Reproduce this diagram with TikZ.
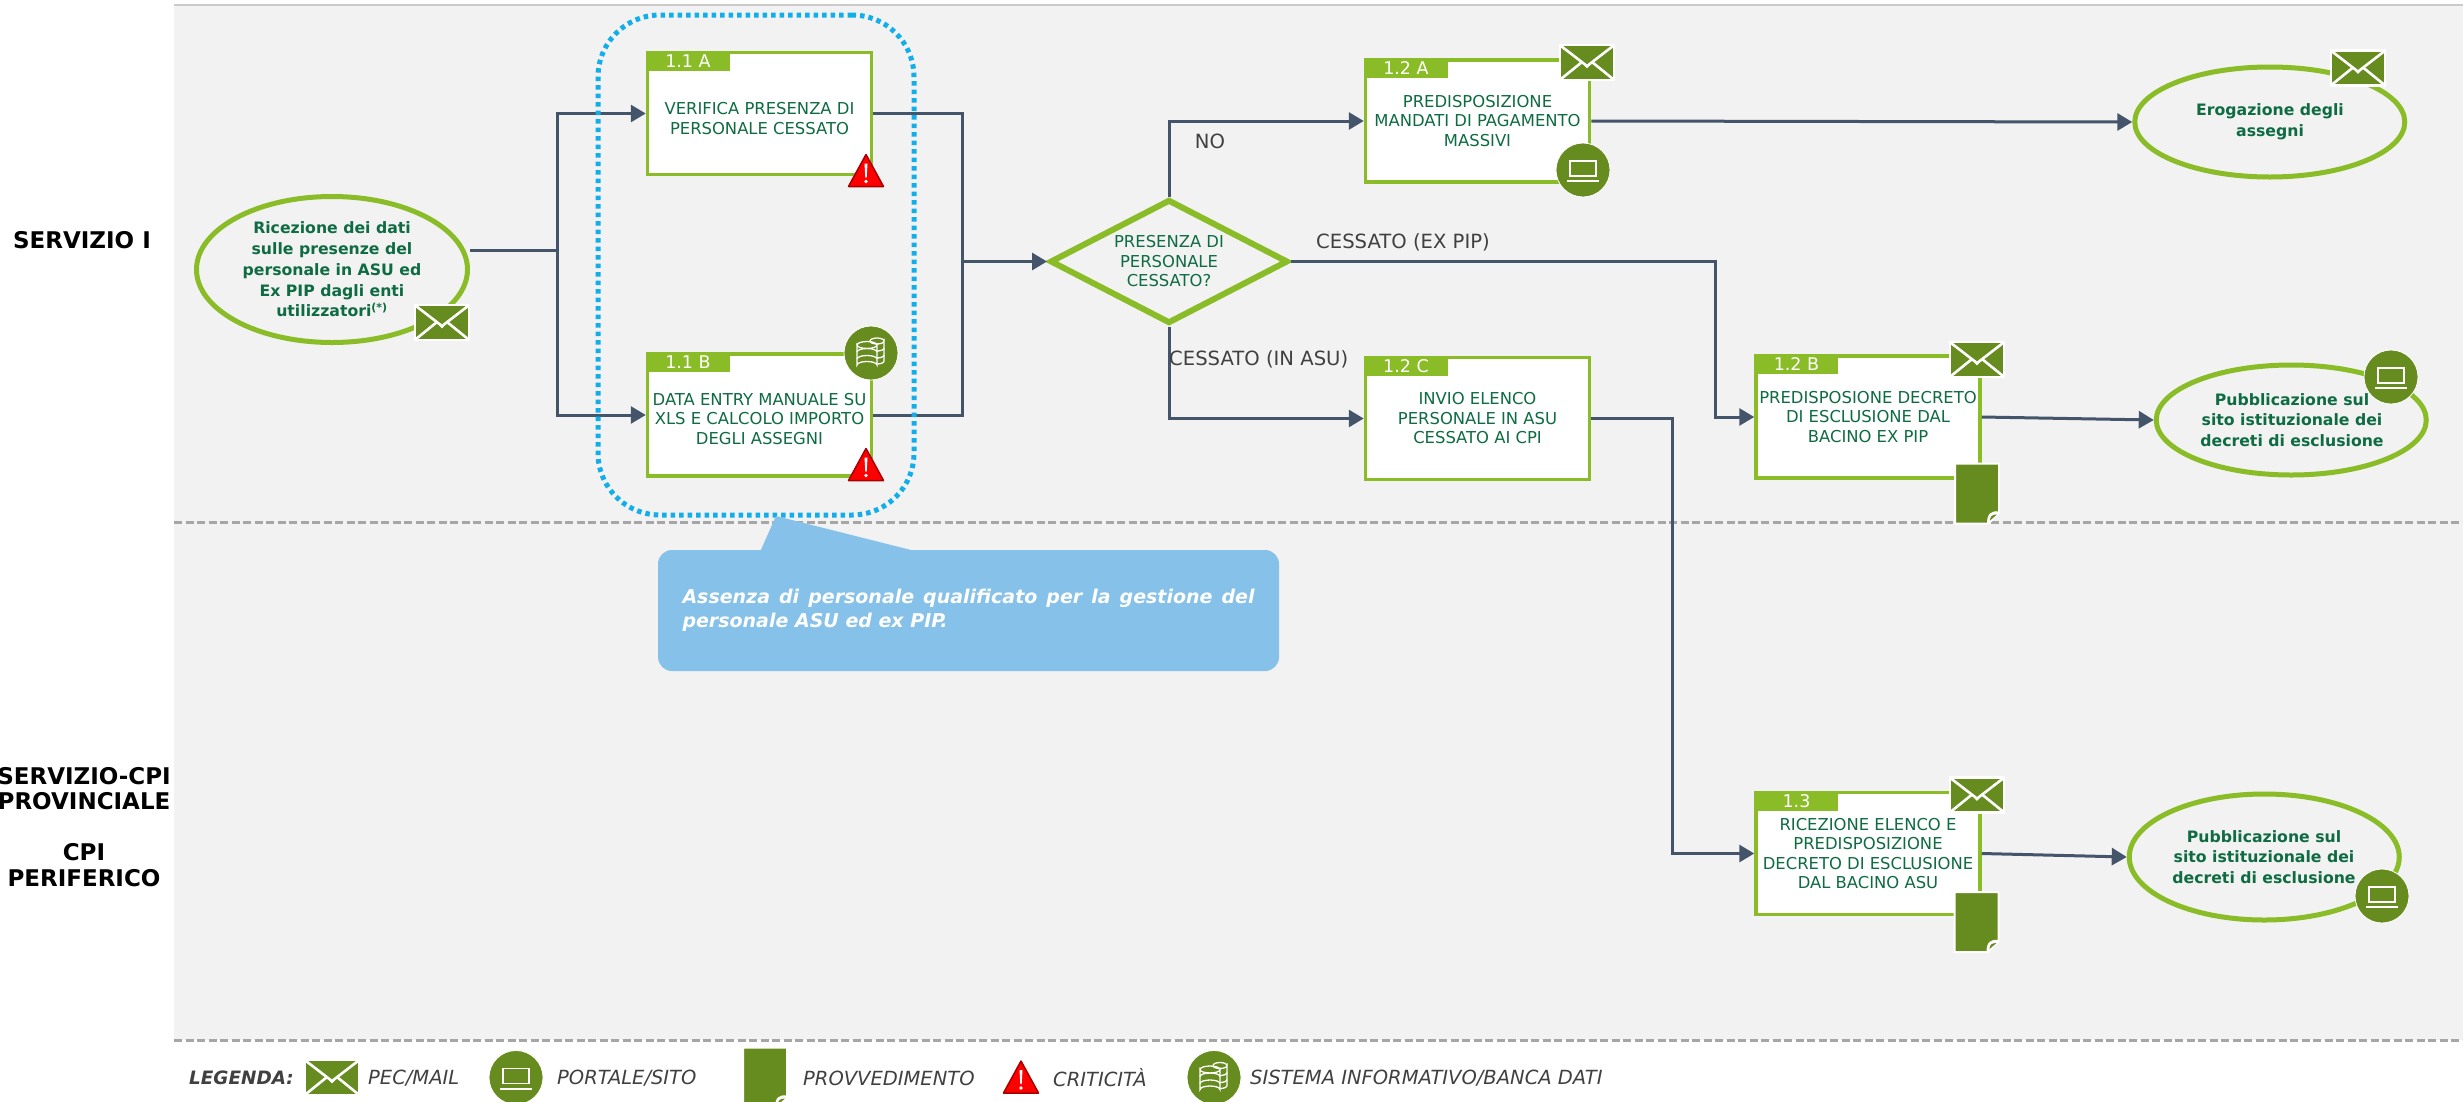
\documentclass[tikz,border=0pt]{standalone}
\usepackage{fontspec}
\setmainfont{DejaVu Sans}
\usepackage{xcolor}
\usepackage{tikz}
\usetikzlibrary{positioning,shapes.geometric,arrows.meta}

\definecolor{leafgreen}{HTML}{8ABC28}
\definecolor{darkleaf}{HTML}{668B1E}
\definecolor{inkgreen}{HTML}{0E6B42}
\definecolor{connblue}{HTML}{44546A}
\definecolor{dotblue}{HTML}{12AEEA}
\definecolor{noteblue}{HTML}{85C1E9}
\definecolor{bandgrey}{HTML}{F2F2F2}
\definecolor{rulegrey}{HTML}{A6A6A6}
\definecolor{labelgrey}{HTML}{404040}

\tikzset{
  stepbox/.style={draw=leafgreen, fill=white, line width=3.5pt, minimum width=224pt, minimum height=122pt, inner sep=0pt},
  steptag/.style={fill=leafgreen, text=white, font=\fontsize{17.5}{17.5}\selectfont, minimum width=84pt, minimum height=20pt, inner sep=0pt, anchor=north west},
  steptext/.style={text=inkgreen, font=\fontsize{16.4}{19.5}\selectfont, align=center, inner sep=0pt},
  endtext/.style={text=inkgreen, font=\fontsize{15.7}{20.7}\selectfont\bfseries, align=center, inner sep=0pt},
  endpoint/.style={ellipse, draw=leafgreen, line width=5pt, inner sep=0pt, minimum width=270pt, minimum height=110pt},
  choice/.style={diamond, draw=leafgreen, fill=bandgrey, line width=6pt, inner sep=0pt, minimum width=238pt, minimum height=124pt},
  flow/.style={draw=connblue, line width=3pt, -{Triangle[length=15pt,width=17pt]}},
  plainflow/.style={draw=connblue, line width=3pt},
  edgetext/.style={text=labelgrey, font=\fontsize{19.6}{19.6}\selectfont, inner sep=0pt},
  lanetext/.style={text=black, font=\fontsize{23}{25.5}\selectfont\bfseries, align=center, inner sep=0pt},
  legendtext/.style={text=labelgrey, font=\fontsize{19.5}{19.5}\selectfont\itshape, inner sep=0pt, anchor=west},
  lanerule/.style={draw=rulegrey, line width=3pt, dash pattern=on 8pt off 3.5pt},
  mailicon/.pic={
    \draw[fill=darkleaf, draw=white, line width=2.5pt] (-27,-17.5) rectangle (27,17.5);
    \draw[white, line width=2.6pt] (-26,-16.5) -- (-2,2) -- (0,4) -- (2,2) -- (26,-16.5);
    \draw[white, line width=2.6pt] (-26,16.5) -- (-5,-.5) (26,16.5) -- (5,-.5);
  },
  laptopicon/.pic={
    \draw[fill=darkleaf, draw=white, line width=.8pt] (0,0) circle (27);
    \draw[white, line width=1.5pt] (-13,-9) rectangle (13,6);
    \draw[white, line width=2pt] (-16,11) -- (16,11);
  },
  dataicon/.pic={
    \draw[fill=darkleaf, draw=white, line width=.8pt] (0,0) circle (27);
    \draw[white, line width=1.3pt] (-1,-12) arc (180:0:7 and 3) -- (13,8) arc (0:90:7 and 3);
    \draw[white, line width=1.3pt] (-1,-12) arc (180:360:7 and 3);
    \draw[white, line width=1.3pt] (13,-5) arc (0:90:7 and 3) (13,2) arc (0:90:7 and 3);
    \draw[white, line width=1.3pt, fill=darkleaf] (-14,-8) arc (180:0:10 and 3.5) -- (6,12) arc (0:-180:10 and 3.5) -- cycle;
    \draw[white, line width=1.3pt] (-14,-8) arc (180:360:10 and 3.5) (-14,-1) arc (180:360:10 and 3.5) (-14,6) arc (180:360:10 and 3.5);
  },
  deedicon/.pic={
    \draw[fill=darkleaf, draw=white, line width=2pt] (-22,-30) -- (22,-30) -- (22,19) -- (11,30) -- (-22,30) -- cycle;
    \fill[white] (22,18) .. controls (14,17) and (10,20) .. (10,30) -- (13,30) -- (23,19) -- cycle;
    \fill[darkleaf] (20,21) .. controls (15,21) and (13,23) .. (13,27) -- cycle;
  },
  alerticon/.pic={
    \draw[fill=red, draw=red!65!black, line width=1.5pt, line join=round] (0,-16) -- (17.5,16) -- (-17.5,16) -- cycle;
    \fill[white] (-1.5,-7) -- (1.5,-7) -- (.7,7) -- (-.7,7) -- cycle;
    \fill[white] (0,11) circle (1.8);
  },
}

\begin{document}
\begin{tikzpicture}[x=1pt,y=-1pt]
  \useasboundingbox (0,0) rectangle (2463,1101);
  % Lanes
  \fill[bandgrey] (174,5) rectangle (2463,1040);
  \draw[draw=rulegrey!60, line width=2pt] (174,5) -- (2463,5);
  \coordinate (ruleMidL) at (174,522);
  \coordinate (ruleMidR) at (2463,522);
  \coordinate (ruleLowL) at (174,1040);
  \coordinate (ruleLowR) at (2463,1040);
  \draw[lanerule] (ruleMidL) -- (ruleMidR);
  \draw[lanerule] (ruleLowL) -- (ruleLowR);
  \node[lanetext] (laneOne) at (82,240) {SERVIZIO I};
  \node[lanetext] (laneTwo) at (84,827) {SERVIZIO-CPI\\PROVINCIALE\\[25.5pt]CPI\\PERIFERICO};

  % Define nodes
  \node[endpoint, minimum width=271pt, minimum height=146pt] (eInput) at (332,269.5) {};
  \node[stepbox] (b11a) at (759.5,113.5) {};
  \node[stepbox, below=176pt of b11a] (b11b) {};
  \node[choice] (dCheck) at (1169,261.5) {};
  \node[stepbox] (b12a) at (1477.5,121) {};
  \node[stepbox, below=172pt of b12a] (b12c) {};
  \node[stepbox] (b12b) at (1868,417) {};
  \node[stepbox, below=311pt of b12b] (b13) {};
  \node[endpoint, right=541pt of b12a, yshift=-1pt] (ePay) {};
  \node[endpoint, right=172pt of b12b, yshift=-3pt] (ePubA) {};
  \node[endpoint, minimum height=126pt, right=145pt of b13, yshift=-3.5pt] (ePubB) {};
  \coordinate (jIn) at (557.5,250);
  \coordinate (jOut) at (962,261.5);
  \coordinate (jPip) at (1715,417);
  \coordinate (jAsu) at (1672,853.5);

  % Connectors
  \draw[plainflow] (eInput.east |- jIn) -- (jIn);
  \draw[flow] (jIn) |- (b11a.west);
  \draw[flow] (jIn) |- (b11b.west);
  \draw[plainflow] (b11a.east) -| (jOut);
  \draw[plainflow] (b11b.east) -| (jOut);
  \draw[flow] (jOut) -- (dCheck.west);
  \draw[flow] (dCheck.north) |- (b12a.west);
  \draw[flow] (dCheck.south) |- (b12c.west);
  \draw[flow] (dCheck.east) -| (jPip) -- (b12b.west);
  \draw[flow] (b12c.east) -| (jAsu) -- (b13.west);
  \draw[flow] (b12a.east) -- (ePay.west);
  \draw[flow] (b12b.east) -- (ePubA.west);
  \draw[flow] (b13.east) -- (ePubB.west);

  % Tags and texts
  \node[steptag] (tag11a) at (b11a.north west) {1.1 A};
  \node[steptag] (tag11b) at (b11b.north west) {1.1 B};
  \node[steptag] (tag12a) at (b12a.north west) {1.2 A};
  \node[steptag] (tag12b) at (b12b.north west) {1.2 B};
  \node[steptag] (tag12c) at (b12c.north west) {1.2 C};
  \node[steptag] (tag13) at (b13.north west) {1.3};
  \node[steptext, yshift=-5pt] (txt11a) at (b11a) {VERIFICA PRESENZA DI\\PERSONALE CESSATO};
  \node[steptext, yshift=-4pt] (txt11b) at (b11b) {DATA ENTRY MANUALE SU\\XLS E CALCOLO IMPORTO\\DEGLI ASSEGNI};
  \node[steptext] (txt12a) at (b12a) {PREDISPOSIZIONE\\MANDATI DI PAGAMENTO\\MASSIVI};
  \node[steptext] (txt12b) at (b12b) {PREDISPOSIONE DECRETO\\DI ESCLUSIONE DAL\\BACINO EX PIP};
  \node[steptext] (txt12c) at (b12c) {INVIO ELENCO\\PERSONALE IN ASU\\CESSATO AI CPI};
  \node[steptext] (txt13) at (b13) {RICEZIONE ELENCO E\\PREDISPOSIZIONE\\DECRETO DI ESCLUSIONE\\DAL BACINO ASU};
  \node[steptext] (txtCheck) at (dCheck) {PRESENZA DI\\PERSONALE\\CESSATO?};
  \node[endtext] (txtInput) at (332,269.5) {Ricezione dei dati\\sulle presenze del\\personale in ASU ed\\Ex PIP dagli enti\\utilizzatori\textsuperscript{(*)}};
  \node[endtext] (txtPay) at (2270,122) {Erogazione degli\\assegni};
  \node[endtext] (txtPubA) at (2292,420) {Pubblicazione sul\\sito istituzionale dei\\decreti di esclusione};
  \node[endtext] (txtPubB) at (2264,857) {Pubblicazione sul\\sito istituzionale dei\\decreti di esclusione};
  \node[edgetext] (lblNo) at (1210,141) {NO};
  \node[edgetext, anchor=west] (lblPip) at (1316,242) {CESSATO (EX PIP)};
  \node[edgetext, anchor=west] (lblAsu) at (1169,359) {CESSATO (IN ASU)};

  % Critical area and note
  \node[draw=dotblue, line width=5pt, dash pattern=on 4.5pt off 4pt, rounded corners=62pt, minimum width=316pt, minimum height=500pt, inner sep=0pt] (critArea) at (756,265) {};
  \fill[noteblue] (776,516) -- (760,552) -- (919,552) -- cycle;
  \node[fill=noteblue, rounded corners=14pt, minimum width=621pt, minimum height=121pt, inner sep=0pt, text=white, align=center] (noteCrit) at (968.5,610.5) {\parbox{572pt}{\fontsize{19}{24}\selectfont\bfseries\itshape Assenza di personale qualificato per la gestione del\linebreak personale ASU ed ex PIP.}};

  % Icons
  \pic (mailInput) at (442,322.5) {mailicon};
  \pic (mail12a) at (1587,62.5) {mailicon};
  \pic (mailPay) at (2358,68) {mailicon};
  \pic (mail12b) at (1977,359.5) {mailicon};
  \pic (mail13) at (1977,795) {mailicon};
  \pic (lapt12a) at (1583,170) {laptopicon};
  \pic (laptPubA) at (2391,377) {laptopicon};
  \pic (laptPubB) at (2382,896) {laptopicon};
  \pic (data11b) at (871,353) {dataicon};
  \pic (alert11a) at (866,170.5) {alerticon};
  \pic (alert11b) at (866,464.5) {alerticon};
  \pic (deed12b) at (1977,493.5) {deedicon};
  \pic (deed13) at (1976.5,922) {deedicon};

  % Legend
  \node[legendtext, font=\fontsize{18.4}{18.4}\selectfont\bfseries\itshape] (lgdTitle) at (189,1078) {LEGENDA:};
  \pic (lgdMail) at (332,1077.5) {mailicon};
  \node[legendtext] (lgdMailTxt) at (368,1078) {PEC/MAIL};
  \pic (lgdLapt) at (516,1077.5) {laptopicon};
  \node[legendtext] (lgdLaptTxt) at (557,1078) {PORTALE/SITO};
  \pic (lgdDeed) at (765,1077.5) {deedicon};
  \node[legendtext] (lgdDeedTxt) at (803,1078) {PROVVEDIMENTO};
  \pic (lgdAlert) at (1021,1077) {alerticon};
  \node[legendtext] (lgdAlertTxt) at (1053,1078) {CRITICITÀ};
  \pic (lgdData) at (1214,1077.5) {dataicon};
  \node[legendtext] (lgdDataTxt) at (1250,1078) {SISTEMA INFORMATIVO/BANCA DATI};
\end{tikzpicture}
\end{document}
